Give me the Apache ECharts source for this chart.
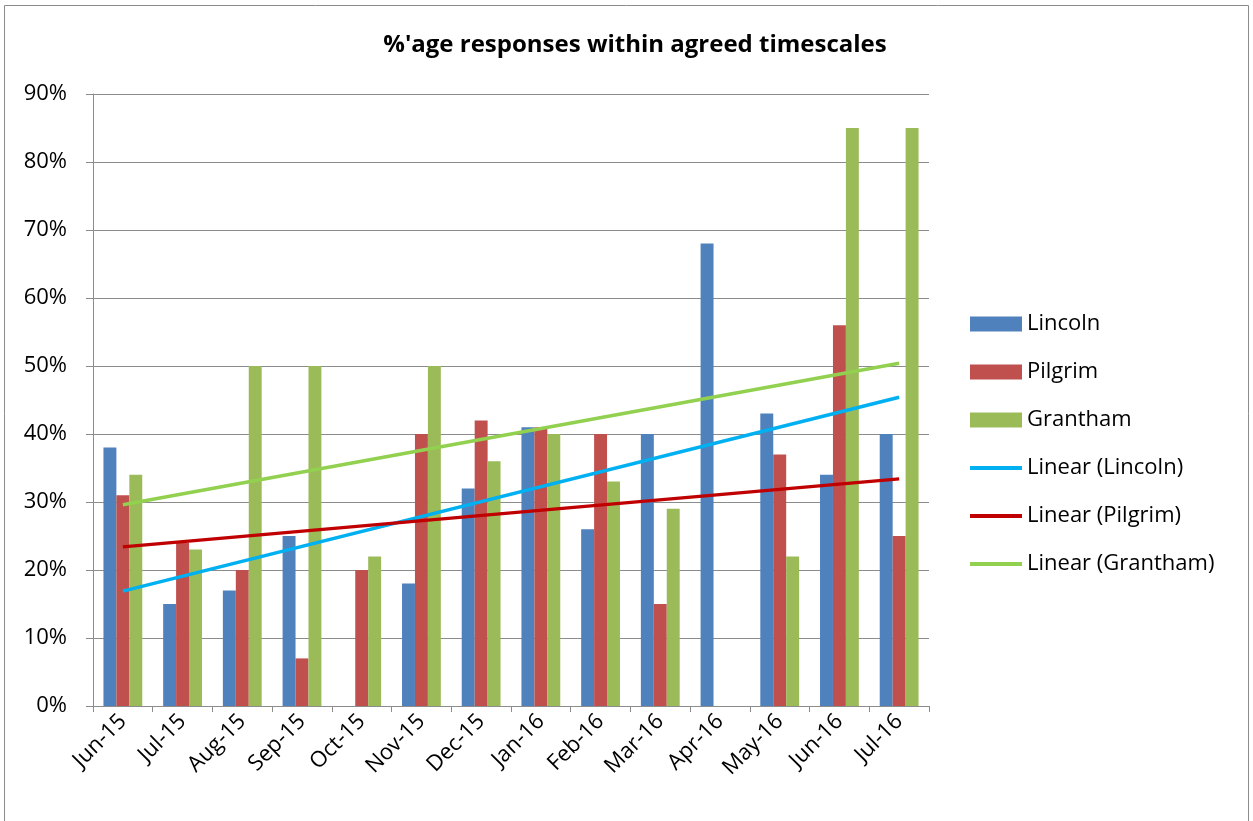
<!DOCTYPE html>
<html><head><meta charset="utf-8">
<script src="https://cdn.jsdelivr.net/npm/echarts@6/dist/echarts.min.js"></script>
<style>html,body{margin:0;padding:0;background:#fff}#c{width:1253px;height:821px}</style>
</head><body><div id="c"></div>
<script>
const categories = ['Jun-15','Jul-15','Aug-15','Sep-15','Oct-15','Nov-15','Dec-15','Jan-16','Feb-16','Mar-16','Apr-16','May-16','Jun-16','Jul-16'];
const lincoln  = [38,15,17,25,null,18,32,41,26,40,68,43,34,40];
const pilgrim  = [31,24,20,7,20,40,42,41,40,15,null,37,56,25];
const grantham = [34,23,50,50,22,50,36,40,33,29,null,22,85,85];
// trend line endpoints (first and last month)
const trendLincoln  = [16.9,null,null,null,null,null,null,null,null,null,null,null,null,45.4];
const trendPilgrim  = [23.4,null,null,null,null,null,null,null,null,null,null,null,null,33.4];
const trendGrantham = [29.6,null,null,null,null,null,null,null,null,null,null,null,null,50.4];
const yTicks = [0,10,20,30,40,50,60,70,80,90];

const FONT = 'Open Sans';
const LINE_ICON = 'path://M0,0 L0,0 M0,5.5 L52,5.5 L52,9.5 L0,9.5 Z M52,15 L52,15';
const chart = echarts.init(document.getElementById('c'), null, {renderer:'canvas'});
const barS = (name, data, color) => ({name, type:'bar', data, barGap:'0%', barCategoryGap:'35%',
  itemStyle:{color}, emphasis:{disabled:true}});
const lineS = (name, data, color) => ({name, type:'line', data, connectNulls:true, symbol:'none',
  lineStyle:{color, width:3.5}, itemStyle:{color}, z:5, emphasis:{disabled:true}});
chart.setOption({
  animation:false,
  textStyle:{fontFamily:FONT},
  graphic:[{type:'rect', shape:{x:4.5,y:5.5,width:1244,height:830}, style:{fill:'none', stroke:'#8c8c8c', lineWidth:1}, silent:true}],
  title:{text:"%'age responses within agreed timescales", left:630, textAlign:'center', top:28,
    textStyle:{fontFamily:FONT, fontSize:24, fontWeight:'bold', color:'#000'}},
  legend:{orient:'vertical', left:965, top:307, itemWidth:52, itemHeight:15, itemGap:24,
    symbolKeepAspect:false,
    textStyle:{fontFamily:FONT, fontSize:22, color:'#000', lineHeight:24},
    data:[{name:'Lincoln',icon:'rect'},{name:'Pilgrim',icon:'rect'},{name:'Grantham',icon:'rect'},
          {name:'Linear (Lincoln)',icon:LINE_ICON},{name:'Linear (Pilgrim)',icon:LINE_ICON},{name:'Linear (Grantham)',icon:LINE_ICON}]},
  grid:{left:93, right:324, top:94, bottom:115, containLabel:false},
  xAxis:{type:'category', data:categories, boundaryGap:true,
    axisLine:{lineStyle:{color:'#8c8c8c', width:1}},
    axisTick:{show:true, alignWithLabel:false, length:6, lineStyle:{color:'#8c8c8c'}},
    axisLabel:{rotate:45, interval:0, fontFamily:FONT, fontSize:22, color:'#000', margin:12}},
  yAxis:{type:'value', min:yTicks[0], max:yTicks[yTicks.length-1], interval:10,
    axisLine:{show:true, lineStyle:{color:'#8c8c8c'}},
    axisTick:{show:true, length:7, lineStyle:{color:'#8c8c8c'}},
    splitLine:{lineStyle:{color:'#8c8c8c', width:1}},
    axisLabel:{formatter:'{value}%', fontFamily:FONT, fontSize:22, color:'#000', margin:26}},
  series:[
    barS('Lincoln', lincoln, '#4F81BD'),
    barS('Pilgrim', pilgrim, '#C0504D'),
    barS('Grantham', grantham, '#9BBB59'),
    lineS('Linear (Lincoln)', trendLincoln, '#00B0F0'),
    lineS('Linear (Pilgrim)', trendPilgrim, '#C00000'),
    lineS('Linear (Grantham)', trendGrantham, '#92D050')
  ]
});
</script></body></html>
